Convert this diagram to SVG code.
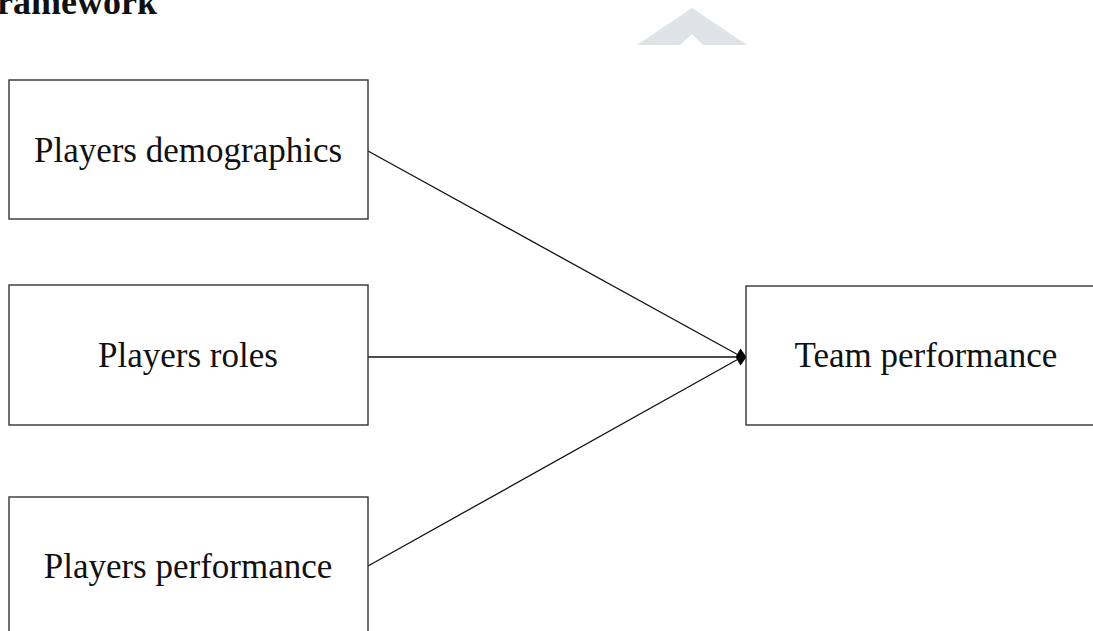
<svg xmlns="http://www.w3.org/2000/svg" width="1093" height="631" viewBox="0 0 1093 631">
<style>
.box{fill:#ffffff;stroke:#333333;stroke-width:1.4}
.lbl{font-family:"Liberation Serif","Times New Roman",serif;font-size:35px;fill:#111111;text-anchor:middle}
.conn{stroke:#111111;stroke-width:1.3;fill:none}
</style>
<defs>
<marker id="ah" markerUnits="userSpaceOnUse" markerWidth="11" markerHeight="18" refX="10.5" refY="9" orient="auto" viewBox="0 0 11 18">
<path d="M0,9 L5,0.5 L11,9 L5,17.5 z" fill="#000000"/>
</marker>
</defs>
<rect width="1093" height="631" fill="#ffffff"/>
<g id="watermark">
<path d="M637,45 L692,8 L747,45 L703,45 L692,34 L680,45 z" fill="#dde3e7"/>
</g>
<g id="title">
<text x="157" y="14" font-family="Liberation Serif,'Times New Roman',serif" font-weight="bold" font-size="36" text-anchor="end" fill="#111111">ramework</text>
</g>
<g id="connectors">
<line class="conn" x1="368" y1="151" x2="742" y2="357"/>
<line class="conn" x1="368" y1="357" x2="746" y2="357" marker-end="url(#ah)"/>
<line class="conn" x1="368" y1="566" x2="742" y2="357"/>
</g>
<g id="node-demographics">
<rect class="box" x="9" y="80" width="359" height="139"/>
<text class="lbl" x="188" y="162">Players demographics</text>
</g>
<g id="node-roles">
<rect class="box" x="9" y="285" width="359" height="140"/>
<text class="lbl" x="188" y="367">Players roles</text>
</g>
<g id="node-performance">
<rect class="box" x="9" y="497" width="359" height="150"/>
<text class="lbl" x="188" y="578">Players performance</text>
</g>
<g id="node-team">
<rect class="box" x="746" y="286" width="360" height="139"/>
<text class="lbl" x="926" y="367">Team performance</text>
</g>
</svg>
